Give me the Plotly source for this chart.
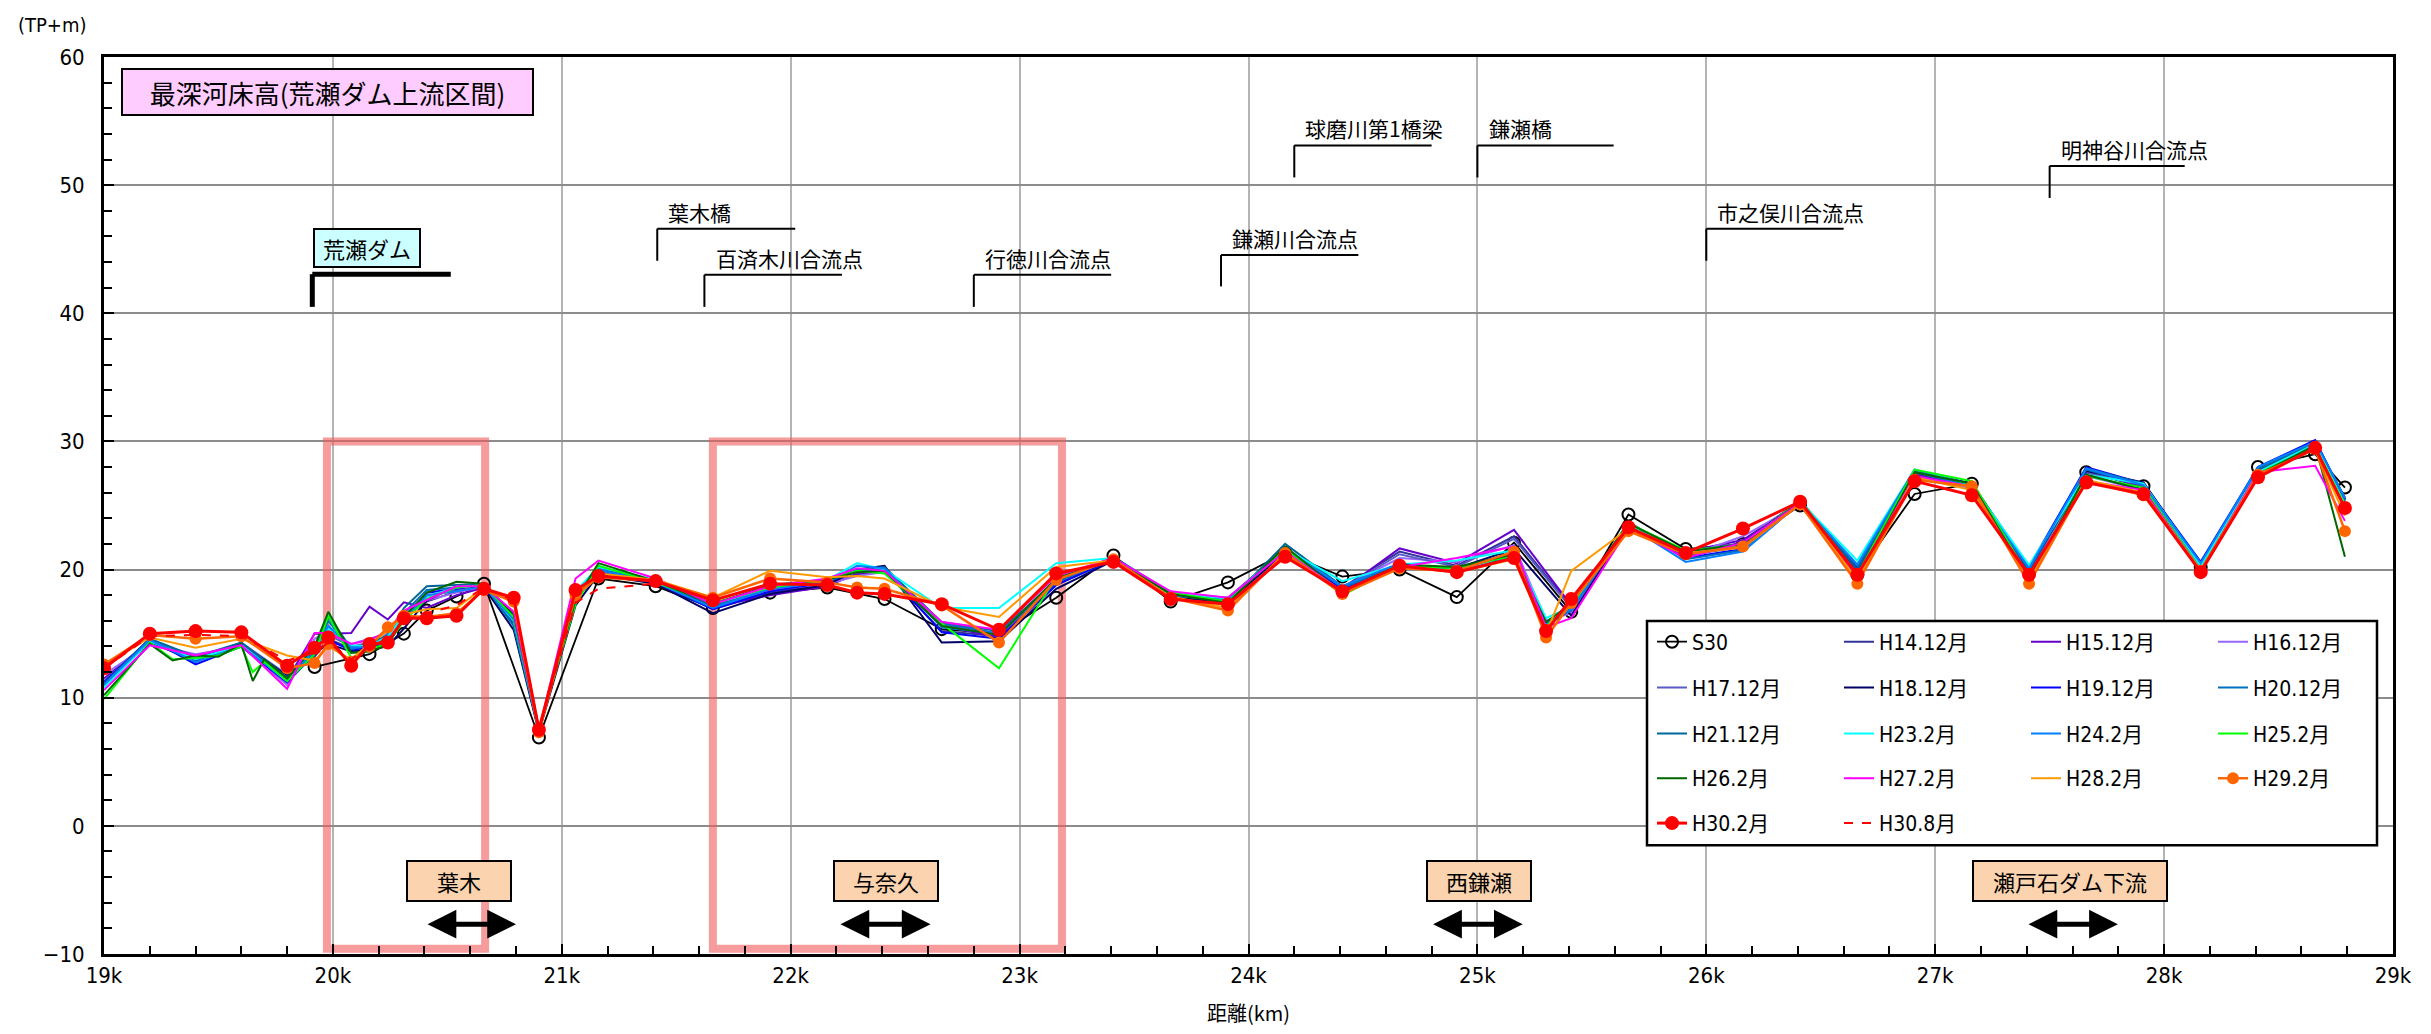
import plotly.graph_objects as go

# ---------------- data ----------------
dist_km = [19.0, 19.2, 19.3, 19.4, 19.5, 19.6, 19.65, 19.7, 19.8, 19.92, 19.98, 20.08, 20.16, 20.24, 20.31,
           20.41, 20.54, 20.66, 20.79, 20.9, 21.06, 21.16, 21.41, 21.66, 21.91, 22.16, 22.29, 22.41, 22.66,
           22.91, 23.16, 23.41, 23.66, 23.91, 24.16, 24.41, 24.66, 24.91, 25.16, 25.3, 25.41, 25.66, 25.91,
           26.16, 26.41, 26.66, 26.91, 27.16, 27.41, 27.66, 27.91, 28.16, 28.41, 28.66, 28.79]

N = None
s30 = [N, N, N, N, N, N, N, N, N, 12.4, N, N, 13.4, N, 15.0, 16.8, 17.9, 18.9, N, 6.9, N, 19.3, 18.7, 17.0,
       18.2, 18.6, N, 17.7, 15.35, 15.0, 17.8, 21.1, 17.5, 19.0, 21.3, 19.45, 20.0, 17.85, 22.1, N, 16.7,
       24.3, 21.6, 22.0, 25.0, 19.6, 25.9, 26.7, 19.8, 27.6, 26.5, 20.2, 28.0, 29.0, 26.4]
h14_12 = [11.2, 14.3, N, 12.9, N, 14.1, N, N, 11.6, 13.2, 14.6, 13.8, 14.0, 14.2, 16.3, 17.5, 18.3, 18.7, 15.8,
          7.4, 17.6, 19.8, 19.0, 16.9, 18.2, 18.9, 19.6, 19.9, 15.2, 14.8, 18.8, 20.8, 18.0, 17.6, 21.5, 18.6,
          21.4, 20.3, 22.6, N, 17.1, 23.6, 21.2, 22.0, 25.2, 20.0, 27.4, 26.5, 19.8, 27.6, 26.5, 20.4, 27.8,
          29.9, 25.6]
h15_12 = [11.5, 14.4, N, 13.1, N, 14.2, N, N, 11.4, 15.0, 15.0, 15.05, 17.1, 16.1, 17.45, 17.0, 18.0, 18.6,
          16.2, 7.5, 18.0, 20.0, 19.1, 17.1, 18.0, 18.7, 19.7, 20.0, 15.6, 14.7, 19.0, 20.9, 18.1, 17.8, 21.6,
          18.4, 21.65, 20.5, 23.1, N, 17.2, 23.5, 21.4, 22.3, 25.3, 19.9, 27.5, 26.6, 19.9, 27.7, 26.4, 20.3,
          27.9, 30.0, 25.2]
h16_12 = [11.8, 14.2, N, 13.4, N, 14.0, N, N, 11.0, 14.6, 15.2, 14.2, 14.6, 15.0, 16.6, 17.6, 18.2, 18.7, 16.4,
          7.5, 18.2, 20.2, 19.1, 17.2, 18.4, 18.9, 19.5, 19.8, 15.9, 15.0, 19.2, 20.8, 18.2, 17.8, 21.4, 18.6,
          20.9, 20.6, 21.9, 16.0, 16.6, 23.4, 21.0, 22.6, 25.1, 19.6, 27.3, 26.3, 19.6, 27.3, 26.2, 20.1, 27.6,
          29.7, 25.0]
h17_12 = [11.3, 14.5, N, 13.0, N, 14.3, N, N, 11.8, 13.8, 14.9, 14.0, 14.3, 14.6, 16.0, 17.9, 18.4, 18.8, 16.0,
          7.4, 17.8, 19.9, 19.0, 17.0, 18.5, 19.1, 19.8, 19.9, 15.7, 14.9, 18.9, 20.7, 17.9, 17.7, 21.6, 18.5,
          21.2, 20.2, 22.4, N, 17.0, 23.5, 21.3, 22.1, 25.4, 20.2, 27.6, 26.6, 20.0, 27.6, 26.6, 20.4, 27.7,
          29.9, 25.4]
h18_12 = [11.0, 14.4, N, 12.8, N, 14.2, N, N, 11.7, 13.5, 14.2, 13.6, 13.8, 14.0, 15.4, 17.6, 18.7, 18.6, 15.3,
          7.3, 17.2, 19.6, 18.9, 16.6, 18.1, 18.8, 20.0, 20.3, 14.3, 14.4, 18.5, 20.7, 17.8, 17.5, 21.3, 18.4,
          20.4, 20.1, 21.6, N, 16.4, 23.4, 21.1, 22.1, 25.3, 20.1, 27.6, 26.7, 20.0, 27.7, 26.8, 20.4, 27.8,
          30.0, 25.5]
h19_12 = [11.2, 14.6, N, 12.6, N, 14.0, N, N, 11.2, 13.4, 14.5, 13.7, 14.0, 14.4, 16.2, 18.2, 18.5, 18.9, 15.9,
          7.5, 17.9, 20.1, 19.0, 16.9, 18.3, 19.0, 20.0, 20.0, 15.1, 14.6, 18.8, 20.8, 18.0, 17.6, 21.7, 18.4,
          20.4, 19.8, 21.0, 15.6, 16.9, 23.5, 20.9, 21.6, 25.2, 20.2, 27.7, 26.7, 20.2, 28.0, 26.7, 20.6, 28.0,
          30.1, 25.5]
h20_12 = [11.0, 14.5, N, 13.0, N, 14.1, N, N, 11.5, 13.6, 16.0, 13.8, 14.1, 14.8, 16.6, 18.4, 18.6, 18.8, 15.6,
          7.5, 18.2, 20.1, 19.0, 17.1, 18.6, 19.1, 19.9, 19.9, 15.8, 15.0, 19.0, 20.9, 18.1, 17.5, 21.7, 18.6,
          20.3, 20.0, 21.2, 15.8, 16.8, 23.6, 20.8, 21.5, 25.2, 20.3, 27.6, 26.5, 20.1, 27.8, 26.6, 20.5, 27.9,
          29.9, 25.3]
h21_12 = [11.1, 14.6, N, 13.2, N, 14.3, N, N, 11.6, 13.7, 16.3, 13.9, 14.2, 14.9, 17.0, 18.7, 18.8, 18.9, 15.7,
          7.4, 18.0, 20.0, 19.0, 17.2, 18.7, 19.2, 19.9, 20.2, 15.9, 15.2, 19.1, 21.0, 18.2, 17.5, 22.0, 18.7,
          20.4, 20.1, 21.3, 15.7, 17.0, 23.7, 21.1, 21.8, 25.4, 20.0, 27.7, 26.6, 19.9, 27.9, 26.7, 20.4, 27.8,
          29.8, 25.4]
h23_2 = [10.8, 14.4, N, 13.0, N, 14.1, N, N, 11.3, 13.9, 15.4, 14.1, 14.0, 14.8, 16.4, 17.9, 18.6, 18.8, 16.0,
         7.5, 18.3, 20.2, 19.2, 17.3, 18.6, 19.2, 20.5, 20.0, 17.0, 17.0, 20.5, 20.9, 18.2, 17.7, 21.6, 19.1,
         20.4, 20.7, 21.5, 16.2, 17.1, 23.5, 21.4, 22.0, 25.3, 20.7, 27.8, 26.6, 20.35, 27.4, 26.7, 20.3, 27.6,
         29.8, 25.1]
h24_2 = [11.0, 14.5, N, 12.8, N, 14.0, N, N, 11.4, 13.7, 15.6, 13.9, 14.0, 14.5, 16.1, 18.0, 18.3, 18.7, 16.1,
         7.5, 18.1, 20.0, 19.0, 17.0, 18.5, 19.0, 20.3, 20.1, 15.5, 15.0, 19.2, 20.9, 18.0, 17.6, 21.6, 18.7,
         20.5, 19.8, 21.0, 15.8, 16.9, 23.4, 20.6, 21.4, 25.2, 20.4, 27.8, 26.4, 20.1, 27.9, 26.6, 20.5, 28.0,
         30.0, 25.6]
h25_2 = [9.9, 14.3, 13.0, 13.1, 13.3, 14.0, 12.0, 12.8, 11.3, 13.4, 16.4, 13.1, 13.8, 14.2, 16.0, 17.7, 18.6,
         18.8, 16.3, 7.6, 17.3, 20.3, 19.0, 17.4, 18.6, 19.2, 19.9, 19.7, 15.8, 12.3, 19.4, 20.8, 18.2, 17.5,
         21.7, 18.0, 20.3, 20.1, 21.1, 15.6, 17.2, 23.6, 21.5, 21.9, 25.4, 19.6, 27.8, 26.9, 19.4, 27.3, 26.4,
         20.0, 27.5, 29.6, 25.0]
h26_2 = [10.2, 14.2, 12.9, 13.3, 13.2, 14.2, 11.3, 13.0, 11.5, 14.0, 16.7, 13.5, 13.6, 14.1, 16.3, 18.2, 19.05,
         18.9, 16.5, 7.5, 17.6, 20.5, 19.1, 17.3, 18.8, 19.2, 19.8, 19.9, 15.6, 14.9, 19.3, 20.9, 18.1, 17.4,
         21.8, 18.2, 20.4, 20.2, 21.2, 15.9, 17.3, 23.6, 21.4, 22.0, 25.3, 19.3, 27.6, 26.7, 19.2, 27.4, 26.2,
         19.8, 27.4, 29.7, 21.0]
h27_2 = [10.6, 14.1, N, 13.3, N, 14.1, N, N, 10.7, 15.05, 15.05, 14.2, 14.5, 15.2, 16.8, 17.6, 18.7, 18.7, 16.7,
         7.4, 19.3, 20.7, 19.3, 17.3, 18.7, 19.3, 20.1, 19.9, 15.9, 15.3, 19.5, 20.9, 18.3, 17.8, 21.4, 18.3,
         20.2, 20.9, 21.8, 15.5, 16.2, 23.2, 20.9, 22.1, 25.2, 19.4, 27.3, 26.5, 19.1, 26.9, 26.2, 19.9, 27.6,
         28.1, 23.8]
h28_2 = [12.5, 14.7, N, 13.9, N, 14.6, N, N, 13.3, 12.9, 14.0, 13.0, 14.2, 15.2, 16.5, 16.9, 17.0, 18.6, 17.4,
         7.6, 18.2, 19.7, 19.2, 17.8, 19.9, 19.4, 19.5, 19.3, 17.1, 16.3, 20.2, 20.7, 17.9, 17.0, 21.2, 18.3,
         20.2, 19.8, 20.8, 15.0, 19.9, 23.2, 21.3, 21.7, 25.1, 19.2, 27.2, 26.2, 19.1, 27.0, 26.0, 19.9, 27.3,
         29.4, 24.2]
h29_2 = [12.6, 14.9, N, 14.6, N, 14.8, N, N, 12.3, 12.7, 14.2, 12.8, 14.0, 15.5, 16.4, 16.3, 16.6, 18.4, 17.5,
         7.3, 18.0, 19.4, 19.1, 17.8, 19.3, 19.0, 18.6, 18.5, 17.2, 14.3, 19.2, 20.8, 17.8, 16.8, 21.3, 18.1,
         20.1, 19.9, 21.4, 14.7, 17.4, 23.0, 21.2, 21.8, 25.1, 18.9, 27.0, 26.5, 18.9, 26.9, 25.8, 19.9, 27.4,
         29.4, 23.0]
h30_2 = [12.3, 15.0, N, 15.2, N, 15.1, N, N, 12.5, 13.9, 14.7, 12.5, 14.2, 14.3, 16.2, 16.2, 16.4, 18.5, 17.8,
         7.5, 18.4, 19.5, 19.1, 17.6, 18.9, 18.8, 18.2, 18.1, 17.3, 15.3, 19.7, 20.6, 17.7, 17.3, 21.0, 18.3,
         20.3, 19.8, 20.9, 15.2, 17.7, 23.3, 21.3, 23.2, 25.3, 19.6, 26.9, 25.8, 19.6, 26.8, 25.9, 19.8, 27.2,
         29.5, 24.8]
h30_8 = [12.3, 14.8, N, 14.9, N, 14.8, N, N, 12.9, 13.5, 14.3, 13.0, 14.0, 14.6, 16.0, 16.6, 17.2, 18.6, 17.6,
         7.6, 17.4, 18.5, 18.9] + [N] * 32

series_names = ["S30", "H14.12月", "H15.12月", "H16.12月", "H17.12月", "H18.12月", "H19.12月", "H20.12月",
                "H21.12月", "H23.2月", "H24.2月", "H25.2月", "H26.2月", "H27.2月", "H28.2月", "H29.2月",
                "H30.2月", "H30.8月"]
series_values = [s30, h14_12, h15_12, h16_12, h17_12, h18_12, h19_12, h20_12, h21_12, h23_2, h24_2, h25_2,
                 h26_2, h27_2, h28_2, h29_2, h30_2, h30_8]
series_colors = ["#000000", "#333399", "#6600CC", "#9966FF", "#5B5BC8", "#000066", "#0000FF", "#0070C0",
                 "#006699", "#00FFFF", "#0080FF", "#00FF00", "#006600", "#FF00FF", "#FF9900", "#FF6600",
                 "#FF0000", "#FF0000"]

x_tick_vals = [19, 20, 21, 22, 23, 24, 25, 26, 27, 28, 29]
x_tick_text = ["19k", "20k", "21k", "22k", "23k", "24k", "25k", "26k", "27k", "28k", "29k"]
y_tick_vals = [-10, 0, 10, 20, 30, 40, 50, 60]
y_tick_text = ["−10", "0", "10", "20", "30", "40", "50", "60"]

# landmarks: name, vertical x, bottom y, top y, right end x
landmark_names = ["葉木橋", "百済木川合流点", "行徳川合流点", "鎌瀬川合流点", "球磨川第1橋梁", "鎌瀬橋",
                  "市之俣川合流点", "明神谷川合流点"]
landmark_x0 = [21.417, 21.623, 22.80, 23.88, 24.20, 25.00, 26.00, 27.50]
landmark_y0 = [44.1, 40.5, 40.5, 42.1, 50.6, 50.6, 44.1, 49.0]
landmark_y1 = [46.6, 43.0, 43.0, 44.55, 53.1, 53.1, 46.6, 51.5]
landmark_x1 = [22.02, 22.224, 23.40, 24.48, 24.80, 25.595, 26.60, 28.09]

dam_name = "荒瀬ダム"
dam_leader = [19.91, 40.5, 43.05, 20.515]

area_names = ["葉木", "与奈久", "西鎌瀬", "瀬戸石ダム下流"]
area_centers = [20.549, 22.416, 25.005, 27.589]
area_arrow_from = [20.407, 22.211, 24.80, 27.401]
area_arrow_to = [20.80, 22.611, 25.198, 27.798]
area_widths = [100, 100, 100, 190]

highlight_x0 = [19.974, 21.66]
highlight_x1 = [20.665, 23.185]

# ---------------- figure ----------------
JP = "Noto Sans CJK JP"
NUM = "Liberation Sans Narrow, DejaVu Sans Condensed, Noto Sans CJK JP"

fig = go.Figure()

rows = [0, 0, 0, 0, 1, 1, 1, 1, 2, 2, 2, 2, 3, 3, 3, 3, 4, 4]
for i, (name, vals, col) in enumerate(zip(series_names, series_values, series_colors)):
    leg = "legend" if rows[i] == 0 else "legend%d" % (rows[i] + 1)
    if name == "S30":
        tr = go.Scatter(x=dist_km, y=vals, name=name, mode="lines+markers",
                        line=dict(color=col, width=1.8),
                        marker=dict(symbol="circle-open", size=12, color=col, line=dict(width=2)))
    elif name == "H29.2月":
        tr = go.Scatter(x=dist_km, y=vals, name=name, mode="lines+markers",
                        line=dict(color=col, width=2.5), marker=dict(size=12, color=col))
    elif name == "H30.2月":
        tr = go.Scatter(x=dist_km, y=vals, name=name, mode="lines+markers",
                        line=dict(color=col, width=3), marker=dict(size=14, color=col))
    elif name == "H30.8月":
        tr = go.Scatter(x=dist_km, y=vals, name=name, mode="lines",
                        line=dict(color=col, width=2, dash="dash"))
    else:
        tr = go.Scatter(x=dist_km, y=vals, name=name, mode="lines", line=dict(color=col, width=2))
    tr.update(connectgaps=True, legend=leg, hoverinfo="x+y+name")
    fig.add_trace(tr)

L, R, T, B = 104, 38, 57, 77
W, H = 2431, 1034
PW, PH = W - L - R, H - T - B


def px_x(p):
    return (p - L) / PW


def px_y(p):
    return (H - B - p) / PH


shapes = []
# highlight rectangles
for a, b in zip(highlight_x0, highlight_x1):
    shapes.append(dict(type="rect", xref="x", yref="y", x0=a, x1=b, y0=-9.6, y1=30,
                       line=dict(color="rgba(240,90,90,0.6)", width=8), layer="between"))
# landmark leader lines
for x0, y0, y1, x1 in zip(landmark_x0, landmark_y0, landmark_y1, landmark_x1):
    shapes.append(dict(type="line", xref="x", yref="y", x0=x0, x1=x0, y0=y0, y1=y1,
                       line=dict(color="black", width=2)))
    shapes.append(dict(type="line", xref="x", yref="y", x0=x0, x1=x1, y0=y1, y1=y1,
                       line=dict(color="black", width=2)))
dx0, dy0, dy1, dx1 = dam_leader
shapes.append(dict(type="line", xref="x", yref="y", x0=dx0, x1=dx0, y0=dy0, y1=dy1,
                   line=dict(color="black", width=5)))
shapes.append(dict(type="line", xref="x", yref="y", x0=dx0, x1=dx1, y0=dy1, y1=dy1,
                   line=dict(color="black", width=5)))
# legend box
shapes.append(dict(type="rect", xref="paper", yref="paper", x0=px_x(1647), x1=px_x(2377),
                   y0=px_y(848), y1=px_y(623), fillcolor="white", line=dict(color="black", width=2.5),
                   layer="above"))

annotations = []
annotations.append(dict(xref="paper", yref="paper", x=px_x(327), y=px_y(92.5), xanchor="center",
                        yanchor="middle", text="最深河床高(荒瀬ダム上流区間)", showarrow=False,
                        font=dict(family=JP, size=26, color="black"), bgcolor="#FFCCFF",
                        bordercolor="black", borderwidth=2, borderpad=2, width=405, height=40))
annotations.append(dict(xref="paper", yref="paper", x=px_x(52), y=px_y(25), text="(TP+m)", showarrow=False,
                        font=dict(family=NUM, size=20, color="black"), xanchor="center", yanchor="middle"))
annotations.append(dict(xref="x", yref="y", x=20.15, y=45.1, text=dam_name, showarrow=False,
                        font=dict(family=JP, size=22, color="black"), bgcolor="#CCFFFF",
                        bordercolor="black", borderwidth=2, borderpad=1, width=102, height=34))
for nm, x0, y1 in zip(landmark_names, landmark_x0, landmark_y1):
    annotations.append(dict(xref="x", yref="y", x=x0 + 0.04, y=y1, text=nm, showarrow=False,
                            xanchor="left", yanchor="bottom", yshift=0,
                            font=dict(family=JP, size=21, color="black")))
for nm, xc, a, b, w in zip(area_names, area_centers, area_arrow_from, area_arrow_to, area_widths):
    annotations.append(dict(xref="x", yref="y", x=xc, y=-4.3, text=nm, showarrow=False,
                            font=dict(family=JP, size=22, color="black"), bgcolor="#FBD3AE",
                            bordercolor="black", borderwidth=2, borderpad=1, width=w, height=36))
    annotations.append(dict(xref="x", yref="y", axref="x", ayref="y", x=b, y=-7.67, ax=a, ay=-7.67,
                            text="", showarrow=True, arrowhead=2, arrowside="end+start", arrowsize=1.15,
                            arrowwidth=5, arrowcolor="black", standoff=0, startstandoff=0))

row_y_px = [644, 690, 736, 781, 826]
legends = {}
for r, ypx in enumerate(row_y_px):
    key = "legend" if r == 0 else "legend%d" % (r + 1)
    legends[key] = dict(orientation="h", x=px_x(1652), y=px_y(ypx), xanchor="left", yanchor="middle",
                        bgcolor="rgba(0,0,0,0)", borderwidth=0, entrywidth=142, entrywidthmode="pixels",
                        font=dict(family=NUM, size=21, color="black"), itemwidth=30,
                        traceorder="normal")

fig.update_layout(
    width=W, height=H,
    margin=dict(l=L, r=R, t=T, b=B),
    plot_bgcolor="white", paper_bgcolor="white",
    shapes=shapes, annotations=annotations,
    showlegend=True,
    **legends,
    xaxis=dict(range=[19, 29], tickvals=x_tick_vals, ticktext=x_tick_text, showgrid=True,
               gridcolor="#B4B4B4", gridwidth=1.5, zeroline=False, showline=True, linecolor="black",
               linewidth=3, mirror=True, ticks="inside", ticklen=10, tickwidth=1.5, tickcolor="black",
               minor=dict(dtick=0.2, tick0=19, ticks="inside", ticklen=8, tickwidth=1.5, tickcolor="black",
                          showgrid=False),
               tickfont=dict(family=NUM, size=22, color="black"),
               title=dict(text="距離(km)", font=dict(family=JP, size=20, color="black"), standoff=20)),
    yaxis=dict(range=[-10, 60], tickvals=y_tick_vals, ticktext=y_tick_text, showgrid=True,
               gridcolor="#8C8C8C", gridwidth=2, zeroline=False, showline=True, linecolor="black",
               linewidth=3, mirror=True, ticks="inside", ticklen=10, tickwidth=1.5, tickcolor="black",
               minor=dict(dtick=2, tick0=0, ticks="inside", ticklen=8, tickwidth=1.5, tickcolor="black",
                          showgrid=False),
               tickfont=dict(family=NUM, size=22, color="black"), ticklabelstandoff=12),
)

fig.write_html("out.html")
